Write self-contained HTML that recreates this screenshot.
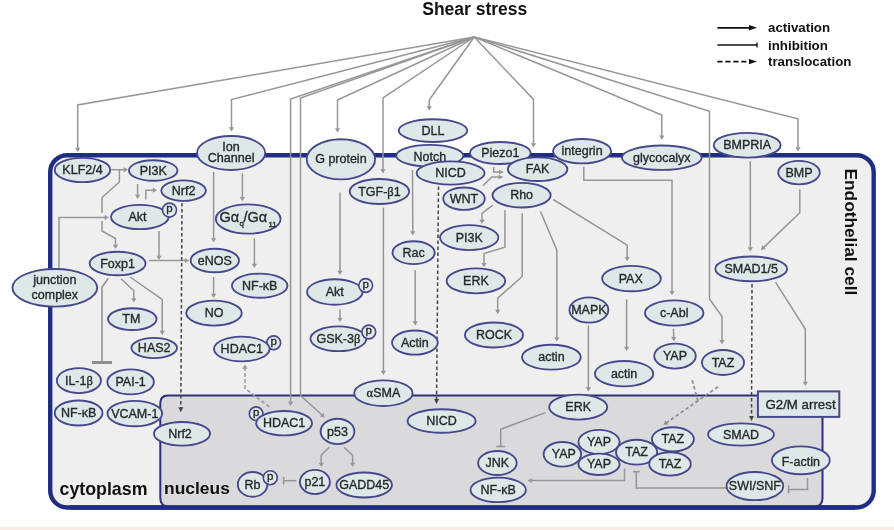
<!DOCTYPE html><html><head><meta charset="utf-8"><style>html,body{margin:0;padding:0;background:#fff;}svg{display:block;filter:blur(0.3px);}text{font-family:"Liberation Sans",sans-serif;fill:#262a2a;stroke:#262a2a;stroke-width:0.35px;}.b{font-weight:bold;fill:#111;stroke:none;}.s{font-family:"Liberation Serif",serif;}</style></head><body>
<svg width="894" height="530" viewBox="0 0 894 530">
<rect x="0" y="0" width="894" height="530" fill="#ffffff"/>
<rect x="0" y="527" width="894" height="3" fill="#fbebe5"/>
<text class="b" x="474.8" y="14.6" font-size="17.5" text-anchor="middle">Shear stress</text>
<text class="b" x="768" y="32" font-size="13.3">activation</text>
<text class="b" x="768" y="49.5" font-size="13.3">inhibition</text>
<text class="b" x="768" y="66" font-size="13.3">translocation</text>
<polygon points="757,27.8 749.0,30.5 749.0,25.1" fill="#111"/>
<polyline points="717.4,27.8 750.5,27.8" fill="none" stroke="#111" stroke-width="1.7" stroke-linejoin="miter"/>
<line x1="757.00" y1="47.60" x2="757.00" y2="42.40" stroke="#111" stroke-width="1.3"/>
<polyline points="717.4,45 757,45" fill="none" stroke="#111" stroke-width="1.6" stroke-linejoin="miter"/>
<polygon points="757,61.6 749.0,64.3 749.0,58.9" fill="#111"/>
<polyline points="717.4,61.6 750.5,61.6" fill="none" stroke="#111" stroke-width="1.8" stroke-dasharray="5,3" stroke-linejoin="miter"/>
<rect x="50.2" y="155.2" width="823.5" height="352.3" rx="17" ry="17" fill="#efeff0" stroke="#1f2d82" stroke-width="4.4"/>
<path d="M160.3,498 L160.3,403 Q160.3,395.5 167.8,395.5 L822.5,395.5 L822.5,498 Q822.5,506.5 814,506.5 L169,506.5 Q160.3,506.5 160.3,498 Z" fill="#dadadd" stroke="#2d3078" stroke-width="2"/>
<line x1="70" y1="507.5" x2="855" y2="507.5" stroke="#1f2d82" stroke-width="4.4"/>
<polygon points="77.7,152 75.10000000000001,147.8 80.3,147.8" fill="#969696"/>
<polyline points="474.2,37 77.7,105 77.7,149.3" fill="none" stroke="#969696" stroke-width="1.5" stroke-linejoin="miter"/>
<polygon points="231.5,131.5 228.9,127.3 234.1,127.3" fill="#969696"/>
<polyline points="474.2,37 231.5,99.5 231.5,128.8" fill="none" stroke="#969696" stroke-width="1.5" stroke-linejoin="miter"/>
<polygon points="290.6,406 288.0,401.8 293.20000000000005,401.8" fill="#969696"/>
<polyline points="474.2,37 290.6,99 290.6,403.3" fill="none" stroke="#969696" stroke-width="1.5" stroke-linejoin="miter"/>
<polygon points="324.8,417.5 319.9414629108495,416.6085868784065 323.4314581576084,412.7537284922138" fill="#969696"/>
<polyline points="474.2,37 300.5,98 300.5,395.5 322.7984389148615,415.68788708341367" fill="none" stroke="#969696" stroke-width="1.5" stroke-linejoin="miter"/>
<polygon points="337.5,132.5 334.9,128.3 340.1,128.3" fill="#969696"/>
<polyline points="474.2,37 337.5,100 337.5,129.8" fill="none" stroke="#969696" stroke-width="1.5" stroke-linejoin="miter"/>
<polygon points="383,173.5 380.4,169.3 385.6,169.3" fill="#969696"/>
<polyline points="474.2,37 383,98 383.0,170.8" fill="none" stroke="#969696" stroke-width="1.5" stroke-linejoin="miter"/>
<polygon points="429.2,110.5 426.59999999999997,106.3 431.8,106.3" fill="#969696"/>
<polyline points="474.2,37 429.2,100 429.2,107.8" fill="none" stroke="#969696" stroke-width="1.5" stroke-linejoin="miter"/>
<polygon points="533.5,147.5 530.9,143.3 536.1,143.3" fill="#969696"/>
<polyline points="474.2,37 533.5,99.4 533.5,144.8" fill="none" stroke="#969696" stroke-width="1.5" stroke-linejoin="miter"/>
<polygon points="661.8,139.8 659.1999999999999,135.60000000000002 664.4,135.60000000000002" fill="#969696"/>
<polyline points="474.2,37 661.8,115 661.8,137.10000000000002" fill="none" stroke="#969696" stroke-width="1.5" stroke-linejoin="miter"/>
<polygon points="722,344.3 719.4,340.1 724.6,340.1" fill="#969696"/>
<polyline points="474.2,37 709.5,111.3 709.5,299 722,316.5 722.0,341.6" fill="none" stroke="#969696" stroke-width="1.5" stroke-linejoin="miter"/>
<polygon points="798,151.5 795.4,147.3 800.6,147.3" fill="#969696"/>
<polyline points="474.2,37 798,118.8 798.0,148.8" fill="none" stroke="#969696" stroke-width="1.5" stroke-linejoin="miter"/>
<polygon points="128,169.7 123.8,172.29999999999998 123.8,167.1" fill="#969696"/>
<polyline points="111.4,169.7 125.3,169.7" fill="none" stroke="#969696" stroke-width="1.5" stroke-linejoin="miter"/>
<polyline points="119.4,169.7 119.4,182 102,197.5 102,213" fill="none" stroke="#969696" stroke-width="1.5" stroke-linejoin="miter"/>
<polygon points="115.5,249 112.9,244.8 118.1,244.8" fill="#969696"/>
<polyline points="102,221 102,231 115.5,238.5 115.5,246.3" fill="none" stroke="#969696" stroke-width="1.5" stroke-linejoin="miter"/>
<polygon points="137.6,199 135.0,194.8 140.2,194.8" fill="#969696"/>
<polyline points="137.6,184 137.6,196.3" fill="none" stroke="#969696" stroke-width="1.5" stroke-linejoin="miter"/>
<polygon points="157,190.2 152.8,192.79999999999998 152.8,187.6" fill="#969696"/>
<polyline points="145.8,199.5 145.8,190.2 154.3,190.2" fill="none" stroke="#969696" stroke-width="1.5" stroke-linejoin="miter"/>
<polygon points="108.8,217.4 104.6,220.0 104.6,214.8" fill="#969696"/>
<polyline points="59,268 59,217.4 106.1,217.4" fill="none" stroke="#969696" stroke-width="1.5" stroke-linejoin="miter"/>
<polygon points="159,260 156.4,255.8 161.6,255.8" fill="#969696"/>
<polyline points="159,231 159.0,257.3" fill="none" stroke="#969696" stroke-width="1.5" stroke-linejoin="miter"/>
<polygon points="189,260.5 184.8,263.1 184.8,257.9" fill="#969696"/>
<polyline points="149,260.5 186.3,260.5" fill="none" stroke="#969696" stroke-width="1.5" stroke-linejoin="miter"/>
<polygon points="213.6,242.5 211.0,238.3 216.2,238.3" fill="#969696"/>
<polyline points="213.6,172 213.6,239.8" fill="none" stroke="#969696" stroke-width="1.5" stroke-linejoin="miter"/>
<polygon points="242.4,201.3 239.8,197.10000000000002 245.0,197.10000000000002" fill="#969696"/>
<polyline points="242.4,173.3 242.4,198.60000000000002" fill="none" stroke="#969696" stroke-width="1.5" stroke-linejoin="miter"/>
<polygon points="254.4,268 251.8,263.8 257.0,263.8" fill="#969696"/>
<polyline points="254.4,238.3 254.4,265.3" fill="none" stroke="#969696" stroke-width="1.5" stroke-linejoin="miter"/>
<polygon points="213.6,298 211.0,293.8 216.2,293.8" fill="#969696"/>
<polyline points="213.6,277 213.6,295.3" fill="none" stroke="#969696" stroke-width="1.5" stroke-linejoin="miter"/>
<line x1="92.00" y1="362.50" x2="112.00" y2="362.50" stroke="#8e8e8e" stroke-width="3"/>
<polyline points="108.3,278.3 102,287.2 102,362.5" fill="none" stroke="#8e8e8e" stroke-width="1.5" stroke-linejoin="miter"/>
<polygon points="133.8,302.5 131.20000000000002,298.3 136.4,298.3" fill="#969696"/>
<polyline points="121,278.8 133.8,290.8 133.8,299.8" fill="none" stroke="#969696" stroke-width="1.5" stroke-linejoin="miter"/>
<polygon points="162.2,335 159.6,330.8 164.79999999999998,330.8" fill="#969696"/>
<polyline points="130,277 162.2,299.5 162.2,332.3" fill="none" stroke="#969696" stroke-width="1.5" stroke-linejoin="miter"/>
<polygon points="340,275 337.4,270.8 342.6,270.8" fill="#969696"/>
<polyline points="340,192.4 340.0,272.3" fill="none" stroke="#969696" stroke-width="1.5" stroke-linejoin="miter"/>
<polygon points="340,322 337.4,317.8 342.6,317.8" fill="#969696"/>
<polyline points="340,309.4 340.0,319.3" fill="none" stroke="#969696" stroke-width="1.5" stroke-linejoin="miter"/>
<polygon points="383.4,375 380.79999999999995,370.8 386.0,370.8" fill="#969696"/>
<polyline points="383.4,207.7 383.4,372.3" fill="none" stroke="#969696" stroke-width="1.5" stroke-linejoin="miter"/>
<polygon points="245,364.5 247.6,368.7 242.4,368.7" fill="#9a9a9a"/>
<polyline points="269.2,406.8 245,388.4 245.0,367.2" fill="none" stroke="#9a9a9a" stroke-width="1.7" stroke-dasharray="3.5,2.5" stroke-linejoin="miter"/>
<polygon points="412.8,235.5 410.1807908312556,231.3119523247263 415.38073628983767,231.2881357806412" fill="#969696"/>
<polyline points="412.5,170 412.78763371749426,232.8000283195824" fill="none" stroke="#969696" stroke-width="1.5" stroke-linejoin="miter"/>
<polygon points="415.2,325.5 412.59999999999997,321.3 417.8,321.3" fill="#969696"/>
<polyline points="415.2,270 415.2,322.8" fill="none" stroke="#969696" stroke-width="1.5" stroke-linejoin="miter"/>
<polygon points="504,172 499.0,174.2 499.0,169.8" fill="#969696"/>
<polyline points="493.7,167 493.7,172 500.5,172.0" fill="none" stroke="#969696" stroke-width="1.5" stroke-linejoin="miter"/>
<polygon points="503.5,177 498.5,179.2 498.5,174.8" fill="#969696"/>
<polyline points="483.1,185.7 491.7,177 500.0,177.0" fill="none" stroke="#969696" stroke-width="1.5" stroke-linejoin="miter"/>
<polygon points="482,224 479.4,219.8 484.6,219.8" fill="#969696"/>
<polyline points="492.9,205.1 482,213.3 482.0,221.3" fill="none" stroke="#969696" stroke-width="1.5" stroke-linejoin="miter"/>
<polygon points="484,267.3 481.4,263.1 486.6,263.1" fill="#969696"/>
<polyline points="504.9,210.2 504.9,247.1 484,253.5 484.0,264.6" fill="none" stroke="#969696" stroke-width="1.5" stroke-linejoin="miter"/>
<polygon points="497.7,314 495.09999999999997,309.8 500.3,309.8" fill="#969696"/>
<polyline points="522.2,213.3 522.2,276.5 497.7,298.1 497.7,311.3" fill="none" stroke="#969696" stroke-width="1.5" stroke-linejoin="miter"/>
<polygon points="556.8,341.5 554.1999999999999,337.3 559.4,337.3" fill="#969696"/>
<polyline points="540.5,211.5 556.8,250 556.8,338.8" fill="none" stroke="#969696" stroke-width="1.5" stroke-linejoin="miter"/>
<polygon points="627.2,261.2 624.6,257.0 629.8000000000001,257.0" fill="#969696"/>
<polyline points="553.3,199.5 627.2,245.2 627.2,258.5" fill="none" stroke="#969696" stroke-width="1.5" stroke-linejoin="miter"/>
<polygon points="672,295.3 669.4,291.1 674.6,291.1" fill="#969696"/>
<polyline points="583.8,166.8 583.8,180.3 672,180.3 672.0,292.6" fill="none" stroke="#969696" stroke-width="1.5" stroke-linejoin="miter"/>
<polygon points="750.3,251.5 747.6999999999999,247.3 752.9,247.3" fill="#969696"/>
<polyline points="750.3,161.2 750.3,248.8" fill="none" stroke="#969696" stroke-width="1.5" stroke-linejoin="miter"/>
<polygon points="761,250 762.2259091953873,245.2149036953615 765.8296883335705,248.96360692757344" fill="#969696"/>
<polyline points="799.8,189.2 799.8,212.7 762.9464420628793,248.12880698594336" fill="none" stroke="#969696" stroke-width="1.5" stroke-linejoin="miter"/>
<polygon points="805.3,386 802.6999999999999,381.8 807.9,381.8" fill="#969696"/>
<polyline points="775.5,282.1 805.3,329 805.3,383.3" fill="none" stroke="#969696" stroke-width="1.5" stroke-linejoin="miter"/>
<polygon points="588.4,391.5 585.8,387.3 591.0,387.3" fill="#969696"/>
<polyline points="588.4,325.4 588.4,388.8" fill="none" stroke="#969696" stroke-width="1.5" stroke-linejoin="miter"/>
<polygon points="626.6,351 624.0,346.8 629.2,346.8" fill="#969696"/>
<polyline points="626.6,299.4 626.6,348.3" fill="none" stroke="#969696" stroke-width="1.5" stroke-linejoin="miter"/>
<polygon points="673.8,341.2 671.0999774945384,337.0635911142633 676.2984805411912,336.93882704114367" fill="#969696"/>
<polyline points="673.5,328.7 673.7352186543417,338.50077726423797" fill="none" stroke="#969696" stroke-width="1.5" stroke-linejoin="miter"/>
<polyline points="692.3,380.3 697.8,400.6" fill="none" stroke="#8e8e8e" stroke-width="1.7" stroke-dasharray="3.5,2.5" stroke-linejoin="miter"/>
<polygon points="663.5,424.8 665.4581629707669,420.2650691537889 668.4322829017702,424.5305832653595" fill="#8e8e8e"/>
<polyline points="718,386.8 665.7147861733155,423.2557454204406" fill="none" stroke="#8e8e8e" stroke-width="1.7" stroke-dasharray="3.5,2.5" stroke-linejoin="miter"/>
<line x1="496.45" y1="446.50" x2="504.95" y2="446.50" stroke="#969696" stroke-width="1.6"/>
<polyline points="545.5,412.6 500.7,429.2 500.7,446.5" fill="none" stroke="#969696" stroke-width="1.5" stroke-linejoin="miter"/>
<polygon points="321.2,467 318.59999999999997,462.8 323.8,462.8" fill="#969696"/>
<polyline points="329.2,447.2 321.2,455.2 321.2,464.3" fill="none" stroke="#969696" stroke-width="1.5" stroke-linejoin="miter"/>
<polygon points="352.6,467 350.0,462.8 355.20000000000005,462.8" fill="#969696"/>
<polyline points="343.8,447.2 352.6,455.2 352.6,464.3" fill="none" stroke="#969696" stroke-width="1.5" stroke-linejoin="miter"/>
<line x1="283.70" y1="476.90" x2="283.70" y2="484.50" stroke="#969696" stroke-width="1.6"/>
<polyline points="296.2,480.7 283.7,480.7" fill="none" stroke="#969696" stroke-width="1.5" stroke-linejoin="miter"/>
<polygon points="527.6,480.5 531.8000000000001,477.9 531.8000000000001,483.1" fill="#969696"/>
<polyline points="624.5,468.4 624.5,480.5 530.3000000000001,480.5" fill="none" stroke="#969696" stroke-width="1.5" stroke-linejoin="miter"/>
<line x1="639.80" y1="471.70" x2="632.80" y2="471.70" stroke="#969696" stroke-width="1.6"/>
<polyline points="726,488 636.3,488 636.3,471.7" fill="none" stroke="#969696" stroke-width="1.5" stroke-linejoin="miter"/>
<line x1="788.60" y1="485.40" x2="788.60" y2="493.40" stroke="#969696" stroke-width="1.6"/>
<polyline points="807.5,478 807.5,489.4 788.6,489.4" fill="none" stroke="#969696" stroke-width="1.5" stroke-linejoin="miter"/>
<polygon points="180.8,412.3 178.32870760282105,407.285748920562 183.32862542524305,407.314415434594" fill="#444"/>
<polyline points="182,203 180.82006655982244,408.80005752430463" fill="none" stroke="#444" stroke-width="1.5" stroke-dasharray="3.5,2.5" stroke-linejoin="miter"/>
<polygon points="436.5,404 434.0461019985326,398.97721346278837 439.04589042888887,399.0232096764991" fill="#444"/>
<polyline points="438.5,186.6 436.53219734959754,400.5001480987506" fill="none" stroke="#444" stroke-width="1.5" stroke-dasharray="3.5,2.5" stroke-linejoin="miter"/>
<polygon points="751.5,421 749.0182647032808,415.99090927243094 754.0182314040238,416.00915732608325" fill="#444"/>
<polyline points="752,284 751.5127736375566,417.50002330947996" fill="none" stroke="#444" stroke-width="1.5" stroke-dasharray="3.5,2.5" stroke-linejoin="miter"/>
<ellipse cx="433" cy="130.6" rx="34.28" ry="11.38" fill="#dee8e8" stroke="#45488a" stroke-width="1.85"/>
<text x="433.00" y="134.79" font-size="12.5" text-anchor="middle">DLL</text>
<ellipse cx="429.8" cy="155.7" rx="33.58" ry="10.77" fill="#dee8e8" stroke="#45488a" stroke-width="1.85"/>
<text x="429.80" y="160.50" font-size="12.5" text-anchor="middle">Notch</text>
<ellipse cx="450.6" cy="173" rx="33.98" ry="11.57" fill="#dee8e8" stroke="#45488a" stroke-width="1.85"/>
<text x="450.60" y="177.19" font-size="12.5" text-anchor="middle">NICD</text>
<ellipse cx="500.3" cy="153" rx="30.38" ry="10.97" fill="#dee8e8" stroke="#45488a" stroke-width="1.85"/>
<text x="500.30" y="157.19" font-size="12.5" text-anchor="middle">Piezo1</text>
<ellipse cx="537.6" cy="169.2" rx="29.77" ry="11.77" fill="#dee8e8" stroke="#45488a" stroke-width="1.85"/>
<text x="537.60" y="173.39" font-size="12.5" text-anchor="middle">FAK</text>
<ellipse cx="582.1" cy="151.2" rx="29.07" ry="12.17" fill="#dee8e8" stroke="#45488a" stroke-width="1.85"/>
<text x="582.10" y="155.39" font-size="12.5" text-anchor="middle">integrin</text>
<ellipse cx="661.8" cy="157.7" rx="39.88" ry="12.17" fill="#dee8e8" stroke="#45488a" stroke-width="1.85"/>
<text x="661.80" y="161.89" font-size="12.5" text-anchor="middle">glycocalyx</text>
<ellipse cx="747.2" cy="145.2" rx="33.48" ry="12.38" fill="#dee8e8" stroke="#45488a" stroke-width="1.85"/>
<text x="747.20" y="149.39" font-size="12.5" text-anchor="middle">BMPRIA</text>
<ellipse cx="799" cy="172.6" rx="20.77" ry="11.77" fill="#dee8e8" stroke="#45488a" stroke-width="1.85"/>
<text x="799.00" y="176.79" font-size="12.5" text-anchor="middle">BMP</text>
<ellipse cx="82.5" cy="170" rx="27.77" ry="12.07" fill="#dee8e8" stroke="#45488a" stroke-width="1.85"/>
<text x="82.50" y="174.19" font-size="12.5" text-anchor="middle">KLF2/4</text>
<ellipse cx="153.2" cy="170.5" rx="24.27" ry="10.27" fill="#dee8e8" stroke="#45488a" stroke-width="1.85"/>
<text x="153.20" y="174.69" font-size="12.5" text-anchor="middle">PI3K</text>
<ellipse cx="183.6" cy="190.6" rx="22.27" ry="10.27" fill="#dee8e8" stroke="#45488a" stroke-width="1.85"/>
<text x="183.60" y="194.79" font-size="12.5" text-anchor="middle">Nrf2</text>
<ellipse cx="139.8" cy="217" rx="28.77" ry="12.07" fill="#dee8e8" stroke="#45488a" stroke-width="1.85"/>
<text x="137.50" y="221.19" font-size="12.5" text-anchor="middle">Akt</text>
<circle cx="169.5" cy="210.1" r="7.00" fill="#dee8e8" stroke="#45488a" stroke-width="1.6"/>
<text x="169.5" y="212.40" font-size="11.5" text-anchor="middle">p</text>
<ellipse cx="231.1" cy="153" rx="34.08" ry="16.97" fill="#dee8e8" stroke="#45488a" stroke-width="1.85"/>
<text x="231.10" y="151.3" font-size="12.6" text-anchor="middle">Ion</text>
<text x="231.10" y="162.3" font-size="12.6" text-anchor="middle">Channel</text>
<ellipse cx="248.2" cy="219" rx="32.38" ry="14.57" fill="#dee8e8" stroke="#45488a" stroke-width="1.85"/>
<text x="219.5" y="222" font-size="14.5">G&#945;</text>
<text x="239.6" y="226.2" font-size="7.8">q</text>
<text x="243.5" y="222" font-size="14.5">/G&#945;</text>
<text x="268.4" y="226.8" font-size="7.8">11</text>
<ellipse cx="214.8" cy="260.5" rx="24.18" ry="11.77" fill="#dee8e8" stroke="#45488a" stroke-width="1.85"/>
<text x="214.80" y="264.69" font-size="12.5" text-anchor="middle">eNOS</text>
<ellipse cx="259.7" cy="285.7" rx="27.77" ry="12.07" fill="#dee8e8" stroke="#45488a" stroke-width="1.85"/>
<text x="259.70" y="289.89" font-size="12.5" text-anchor="middle">NF-&#954;B</text>
<ellipse cx="214" cy="313.1" rx="27.77" ry="12.47" fill="#dee8e8" stroke="#45488a" stroke-width="1.85"/>
<text x="214.00" y="317.29" font-size="12.5" text-anchor="middle">NO</text>
<ellipse cx="117.6" cy="263.5" rx="27.97" ry="11.77" fill="#dee8e8" stroke="#45488a" stroke-width="1.85"/>
<text x="117.60" y="267.69" font-size="12.5" text-anchor="middle">Foxp1</text>
<ellipse cx="54.8" cy="287.8" rx="42.38" ry="18.77" fill="#dee8e8" stroke="#45488a" stroke-width="1.85"/>
<text x="54.80" y="283.5" font-size="12.5" text-anchor="middle">junction</text>
<text x="54.80" y="298.5" font-size="12.5" text-anchor="middle">complex</text>
<ellipse cx="132.3" cy="319.1" rx="24.27" ry="10.88" fill="#dee8e8" stroke="#45488a" stroke-width="1.85"/>
<text x="131.30" y="323.29" font-size="12.5" text-anchor="middle">TM</text>
<ellipse cx="154.2" cy="348" rx="22.77" ry="10.07" fill="#dee8e8" stroke="#45488a" stroke-width="1.85"/>
<text x="154.20" y="352.19" font-size="12.5" text-anchor="middle">HAS2</text>
<ellipse cx="78.9" cy="380.6" rx="22.07" ry="12.47" fill="#dee8e8" stroke="#45488a" stroke-width="1.85"/>
<text x="78.90" y="384.79" font-size="12.5" text-anchor="middle">IL-1<tspan class="s">&#946;</tspan></text>
<ellipse cx="130.6" cy="381.9" rx="23.27" ry="12.47" fill="#dee8e8" stroke="#45488a" stroke-width="1.85"/>
<text x="130.60" y="386.09" font-size="12.5" text-anchor="middle">PAI-1</text>
<ellipse cx="78.6" cy="413" rx="23.88" ry="12.47" fill="#dee8e8" stroke="#45488a" stroke-width="1.85"/>
<text x="78.60" y="417.19" font-size="12.5" text-anchor="middle">NF-&#954;B</text>
<circle cx="273.7" cy="342.8" r="6.90" fill="#dee8e8" stroke="#45488a" stroke-width="1.6"/>
<text x="273.7" y="345.10" font-size="11.5" text-anchor="middle">p</text>
<ellipse cx="241.8" cy="349" rx="27.77" ry="12.38" fill="#dee8e8" stroke="#45488a" stroke-width="1.85"/>
<text x="241.80" y="353.19" font-size="12.5" text-anchor="middle">HDAC1</text>
<ellipse cx="340.9" cy="159.3" rx="34.18" ry="20.07" fill="#dee8e8" stroke="#45488a" stroke-width="1.85"/>
<text x="340.90" y="163.49" font-size="12.5" text-anchor="middle">G protein</text>
<ellipse cx="379.4" cy="191.5" rx="29.68" ry="12.47" fill="#dee8e8" stroke="#45488a" stroke-width="1.85"/>
<text x="379.40" y="195.69" font-size="12.5" text-anchor="middle">TGF-<tspan class="s">&#946;</tspan>1</text>
<ellipse cx="334.8" cy="292" rx="27.77" ry="12.77" fill="#dee8e8" stroke="#45488a" stroke-width="1.85"/>
<text x="334.80" y="296.19" font-size="12.5" text-anchor="middle">Akt</text>
<circle cx="365.7" cy="285.5" r="6.90" fill="#dee8e8" stroke="#45488a" stroke-width="1.6"/>
<text x="365.7" y="287.80" font-size="11.5" text-anchor="middle">p</text>
<ellipse cx="338.4" cy="338.8" rx="27.97" ry="12.38" fill="#dee8e8" stroke="#45488a" stroke-width="1.85"/>
<text x="338.40" y="342.99" font-size="12.5" text-anchor="middle">GSK-3<tspan class="s">&#946;</tspan></text>
<circle cx="368.8" cy="332" r="6.90" fill="#dee8e8" stroke="#45488a" stroke-width="1.6"/>
<text x="368.8" y="334.30" font-size="11.5" text-anchor="middle">p</text>
<ellipse cx="464" cy="198.7" rx="20.77" ry="11.17" fill="#dee8e8" stroke="#45488a" stroke-width="1.85"/>
<text x="464.00" y="202.89" font-size="12.5" text-anchor="middle">WNT</text>
<ellipse cx="521.6" cy="195.2" rx="29.07" ry="12.27" fill="#dee8e8" stroke="#45488a" stroke-width="1.85"/>
<text x="521.60" y="199.39" font-size="12.5" text-anchor="middle">Rho</text>
<ellipse cx="413.6" cy="252.7" rx="21.07" ry="11.47" fill="#dee8e8" stroke="#45488a" stroke-width="1.85"/>
<text x="413.60" y="256.89" font-size="12.5" text-anchor="middle">Rac</text>
<ellipse cx="414.9" cy="342.6" rx="22.88" ry="12.07" fill="#dee8e8" stroke="#45488a" stroke-width="1.85"/>
<text x="414.90" y="346.79" font-size="12.5" text-anchor="middle">Actin</text>
<ellipse cx="469.2" cy="237.6" rx="29.18" ry="12.47" fill="#dee8e8" stroke="#45488a" stroke-width="1.85"/>
<text x="469.20" y="241.79" font-size="12.5" text-anchor="middle">PI3K</text>
<ellipse cx="475.9" cy="280.9" rx="29.27" ry="12.47" fill="#dee8e8" stroke="#45488a" stroke-width="1.85"/>
<text x="475.90" y="285.09" font-size="12.5" text-anchor="middle">ERK</text>
<ellipse cx="494" cy="335" rx="29.07" ry="12.47" fill="#dee8e8" stroke="#45488a" stroke-width="1.85"/>
<text x="494.00" y="339.19" font-size="12.5" text-anchor="middle">ROCK</text>
<ellipse cx="551.4" cy="357.2" rx="29.38" ry="12.47" fill="#dee8e8" stroke="#45488a" stroke-width="1.85"/>
<text x="551.40" y="361.39" font-size="12.5" text-anchor="middle">actin</text>
<ellipse cx="631.5" cy="278.6" rx="29.38" ry="12.67" fill="#dee8e8" stroke="#45488a" stroke-width="1.85"/>
<text x="630.70" y="282.79" font-size="12.5" text-anchor="middle">PAX</text>
<ellipse cx="588.9" cy="310" rx="19.47" ry="12.67" fill="#dee8e8" stroke="#45488a" stroke-width="1.85"/>
<text x="588.90" y="314.19" font-size="12.5" text-anchor="middle">MAPK</text>
<ellipse cx="674.2" cy="313" rx="29.27" ry="12.67" fill="#dee8e8" stroke="#45488a" stroke-width="1.85"/>
<text x="674.20" y="317.19" font-size="12.5" text-anchor="middle">c-Abl</text>
<ellipse cx="624.1" cy="373.7" rx="29.18" ry="12.67" fill="#dee8e8" stroke="#45488a" stroke-width="1.85"/>
<text x="624.10" y="377.89" font-size="12.5" text-anchor="middle">actin</text>
<ellipse cx="675" cy="356.1" rx="20.77" ry="12.47" fill="#dee8e8" stroke="#45488a" stroke-width="1.85"/>
<text x="675.00" y="360.29" font-size="12.5" text-anchor="middle">YAP</text>
<ellipse cx="723" cy="362.5" rx="21.07" ry="12.47" fill="#dee8e8" stroke="#45488a" stroke-width="1.85"/>
<text x="723.00" y="366.69" font-size="12.5" text-anchor="middle">TAZ</text>
<ellipse cx="751.2" cy="268.9" rx="35.88" ry="12.38" fill="#dee8e8" stroke="#45488a" stroke-width="1.85"/>
<text x="751.20" y="273.09" font-size="12.5" text-anchor="middle">SMAD1/5</text>
<ellipse cx="134.8" cy="413.6" rx="27.38" ry="12.67" fill="#dee8e8" stroke="#45488a" stroke-width="1.85"/>
<text x="134.80" y="417.79" font-size="12.5" text-anchor="middle">VCAM-1</text>
<ellipse cx="383.4" cy="393.2" rx="29.18" ry="12.77" fill="#dee8e8" stroke="#45488a" stroke-width="1.85"/>
<text x="383.40" y="397.39" font-size="12.5" text-anchor="middle"><tspan class="s">&#945;</tspan>SMA</text>
<rect x="757.9" y="391.4" width="81.4" height="25.5" fill="#dee8e8" stroke="#45488a" stroke-width="2"/>
<text x="800.5" y="408.8" font-size="13.3" text-anchor="middle">G2/M arrest</text>
<ellipse cx="182" cy="433.8" rx="28.07" ry="11.77" fill="#dee8e8" stroke="#45488a" stroke-width="1.85"/>
<text x="180.00" y="437.99" font-size="12.5" text-anchor="middle">Nrf2</text>
<circle cx="256.1" cy="413.7" r="6.80" fill="#dee8e8" stroke="#45488a" stroke-width="1.6"/>
<text x="256.1" y="416.00" font-size="11.5" text-anchor="middle">p</text>
<ellipse cx="284.1" cy="423.2" rx="27.97" ry="12.17" fill="#dee8e8" stroke="#45488a" stroke-width="1.85"/>
<text x="284.10" y="427.39" font-size="12.5" text-anchor="middle">HDAC1</text>
<ellipse cx="337.5" cy="431.4" rx="16.88" ry="12.67" fill="#dee8e8" stroke="#45488a" stroke-width="1.85"/>
<text x="337.50" y="435.59" font-size="12.5" text-anchor="middle">p53</text>
<ellipse cx="441.6" cy="421" rx="34.08" ry="11.77" fill="#dee8e8" stroke="#45488a" stroke-width="1.85"/>
<text x="441.60" y="425.19" font-size="12.5" text-anchor="middle">NICD</text>
<ellipse cx="578.2" cy="407.1" rx="29.07" ry="12.47" fill="#dee8e8" stroke="#45488a" stroke-width="1.85"/>
<text x="578.20" y="411.29" font-size="12.5" text-anchor="middle">ERK</text>
<ellipse cx="497.4" cy="463" rx="19.27" ry="11.97" fill="#dee8e8" stroke="#45488a" stroke-width="1.85"/>
<text x="497.40" y="467.19" font-size="12.5" text-anchor="middle">JNK</text>
<ellipse cx="498.2" cy="489.9" rx="27.68" ry="12.27" fill="#dee8e8" stroke="#45488a" stroke-width="1.85"/>
<text x="498.20" y="494.09" font-size="12.5" text-anchor="middle">NF-&#954;B</text>
<ellipse cx="562.4" cy="454.3" rx="18.77" ry="12.27" fill="#dee8e8" stroke="#45488a" stroke-width="1.85"/>
<text x="563.90" y="458.49" font-size="12.5" text-anchor="middle">YAP</text>
<ellipse cx="599" cy="442" rx="20.57" ry="12.07" fill="#dee8e8" stroke="#45488a" stroke-width="1.85"/>
<text x="599.00" y="446.19" font-size="12.5" text-anchor="middle">YAP</text>
<ellipse cx="599" cy="464.3" rx="20.57" ry="10.67" fill="#dee8e8" stroke="#45488a" stroke-width="1.85"/>
<text x="599.00" y="468.49" font-size="12.5" text-anchor="middle">YAP</text>
<ellipse cx="636.6" cy="452.2" rx="20.57" ry="12.47" fill="#dee8e8" stroke="#45488a" stroke-width="1.85"/>
<text x="636.60" y="456.39" font-size="12.5" text-anchor="middle">TAZ</text>
<ellipse cx="672.9" cy="439.3" rx="20.97" ry="12.07" fill="#dee8e8" stroke="#45488a" stroke-width="1.85"/>
<text x="672.90" y="443.49" font-size="12.5" text-anchor="middle">TAZ</text>
<ellipse cx="670" cy="463.9" rx="20.77" ry="11.67" fill="#dee8e8" stroke="#45488a" stroke-width="1.85"/>
<text x="670.00" y="468.09" font-size="12.5" text-anchor="middle">TAZ</text>
<ellipse cx="741" cy="434.5" rx="32.98" ry="11.07" fill="#dee8e8" stroke="#45488a" stroke-width="1.85"/>
<text x="741.00" y="438.69" font-size="12.5" text-anchor="middle">SMAD</text>
<ellipse cx="800.85" cy="460.3" rx="28.93" ry="13.97" fill="#dee8e8" stroke="#45488a" stroke-width="1.85"/>
<text x="800.85" y="465.80" font-size="12.5" text-anchor="middle">F-actin</text>
<ellipse cx="754.9" cy="486.1" rx="28.38" ry="14.07" fill="#dee8e8" stroke="#45488a" stroke-width="1.85"/>
<text x="754.90" y="490.29" font-size="12.5" text-anchor="middle">SWI/SNF</text>
<ellipse cx="252.6" cy="484.4" rx="14.77" ry="12.38" fill="#dee8e8" stroke="#45488a" stroke-width="1.85"/>
<text x="252.60" y="488.59" font-size="12.5" text-anchor="middle">Rb</text>
<circle cx="270.3" cy="477.7" r="7.00" fill="#dee8e8" stroke="#45488a" stroke-width="1.6"/>
<text x="270.3" y="480.00" font-size="11.5" text-anchor="middle">p</text>
<ellipse cx="314.9" cy="482" rx="14.97" ry="12.07" fill="#dee8e8" stroke="#45488a" stroke-width="1.85"/>
<text x="314.90" y="486.19" font-size="12.5" text-anchor="middle">p21</text>
<ellipse cx="364.2" cy="485" rx="27.77" ry="12.47" fill="#dee8e8" stroke="#45488a" stroke-width="1.85"/>
<text x="364.20" y="489.19" font-size="12.5" text-anchor="middle">GADD45</text>
<text class="b" x="59.5" y="494.8" font-size="17.8">cytoplasm</text>
<text class="b" x="164.1" y="494.2" font-size="17.4">nucleus</text>
<text class="b" x="0" y="0" font-size="17.3" transform="translate(845,168.5) rotate(90)">Endothelial cell</text>
</svg></body></html>
